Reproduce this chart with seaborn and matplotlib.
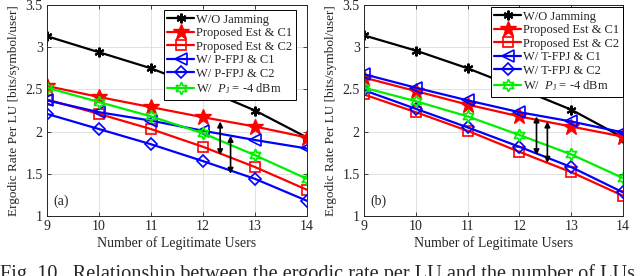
import numpy as np
import pandas as pd
import matplotlib
matplotlib.use("Agg")
import matplotlib.pyplot as plt
import seaborn as sns

users = [9, 10, 11, 12, 13, 14]

# Panel (a)
a_wo = [3.13, 2.94, 2.75, 2.51, 2.25, 1.93]
a_est_c1 = [2.54, 2.41, 2.29, 2.17, 2.06, 1.93]
a_est_c2 = [2.38, 2.21, 2.03, 1.82, 1.58, 1.31]
a_fpj_c1 = [2.37, 2.23, 2.13, 2.01, 1.90, 1.80]
a_fpj_c2 = [2.21, 2.03, 1.85, 1.65, 1.44, 1.18]
a_pj = [2.52, 2.35, 2.18, 1.98, 1.72, 1.44]

# Panel (b)
b_wo = [3.14, 2.96, 2.75, 2.51, 2.26, 1.93]
b_est_c1 = [2.64, 2.48, 2.32, 2.18, 2.06, 1.94]
b_est_c2 = [2.44, 2.23, 2.01, 1.76, 1.52, 1.24]
b_fpj_c1 = [2.68, 2.52, 2.37, 2.23, 2.12, 1.99]
b_fpj_c2 = [2.49, 2.27, 2.05, 1.82, 1.58, 1.28]
b_pj = [2.52, 2.36, 2.18, 1.96, 1.73, 1.45]

labels_a = ["W/O Jamming", "Proposed Est & C1", "Proposed Est & C2",
            "W/ P-FPJ & C1", "W/ P-FPJ & C2", r"W/  $P_\mathrm{J}$ = -4 dBm"]
labels_b = ["W/O Jamming", "Proposed Est & C1", "Proposed Est & C2",
            "W/ T-FPJ & C1", "W/ T-FPJ & C2", r"W/  $P_\mathrm{J}$ = -4 dBm"]

# double arrows: (x, y_top, y_bottom)
arrows_a = [(12.33, 2.12, 1.72), (12.53, 1.95, 1.50)]
arrows_b = [(12.33, 2.18, 1.72), (12.54, 2.12, 1.63)]

yticks = [1, 1.5, 2, 2.5, 3, 3.5]

sns.set_style("ticks")
plt.rcParams["font.family"] = ["Liberation Serif", "DejaVu Serif"]
plt.rcParams["mathtext.fontset"] = "custom"
plt.rcParams["mathtext.rm"] = "Liberation Serif"
plt.rcParams["mathtext.it"] = "Liberation Serif:italic"

green = "#00ee00"
styles = [
    dict(color="black", marker=(6, 2, 0), ms=7, mfc="black", mec="black", mew=1.5),
    dict(color="red", marker="*", ms=12, mfc="red", mec="red", mew=1.0),
    dict(color="red", marker="s", ms=6.5, mfc="none", mec="red", mew=1.2),
    dict(color="blue", marker="<", ms=8, mfc="none", mec="blue", mew=1.2),
    dict(color="blue", marker="D", ms=6, mfc="none", mec="blue", mew=1.2),
    dict(color=green, marker=(6, 1, 0), ms=9, mfc="none", mec=green, mew=1.2),
]

fig = plt.figure(figsize=(6.4, 2.76), dpi=100)
ax_a = fig.add_axes([47 / 640, 1 - 216 / 276, 260 / 640, 211 / 276])
ax_b = fig.add_axes([364 / 640, 1 - 216 / 276, 259 / 640, 211 / 276])


def draw(ax, series, labels, arrows, tag, anchor):
    for vals, lab, st in zip(series, labels, styles):
        df = pd.DataFrame({"x": users, "y": vals})
        sns.lineplot(data=df, x="x", y="y", ax=ax, label=lab, lw=1.6, **st)
    for (xa, y1, y2) in arrows:
        ax.annotate("", xy=(xa, y1), xytext=(xa, y2),
                    arrowprops=dict(arrowstyle="<|-|>", color="black", lw=1.2,
                                    mutation_scale=8, shrinkA=0, shrinkB=0))
    ax.set_xlim(9, 14)
    ax.set_ylim(1, 3.5)
    ax.set_xticks(users)
    ax.set_yticks(yticks)
    ax.set_yticklabels([f"{t:g}" for t in yticks])
    ax.grid(True, color="#dcdcdc", lw=0.6)
    ax.set_axisbelow(True)
    for sp in ax.spines.values():
        sp.set_visible(True)
        sp.set_color("#262626")
        sp.set_linewidth(0.7)
    ax.tick_params(direction="in", length=3, width=0.6, top=True, right=True,
                   labelsize=10, pad=3, colors="#262626")
    ax.set_xlabel("Number of Legitimate Users", fontsize=10, labelpad=2)
    ax.set_ylabel("Ergodic Rate Per LU [bits/symbol/user]", fontsize=9.5, labelpad=4)
    ax.text(9.12, 1.17, tag, fontsize=10, ha="left", va="center")
    leg = ax.legend(loc="upper right", bbox_to_anchor=anchor, fontsize=9,
                    frameon=True, fancybox=False, framealpha=1, edgecolor="black",
                    handlelength=2.1, labelspacing=0.12, borderpad=0.3,
                    handletextpad=0.2, borderaxespad=0.0)
    leg.get_frame().set_linewidth(0.7)


draw(ax_a, [a_wo, a_est_c1, a_est_c2, a_fpj_c1, a_fpj_c2, a_pj], labels_a, arrows_a,
     "(a)", (0.958, 0.976))
draw(ax_b, [b_wo, b_est_c1, b_est_c2, b_fpj_c1, b_fpj_c2, b_pj], labels_b, arrows_b,
     "(b)", (1.0, 0.99))

fig.text(0.0, -0.012,
         "Fig. 10.  Relationship between the ergodic rate per LU and the number of LUs",
         fontsize=14.6, ha="left", va="baseline")

fig.savefig("out.png", dpi=100)
